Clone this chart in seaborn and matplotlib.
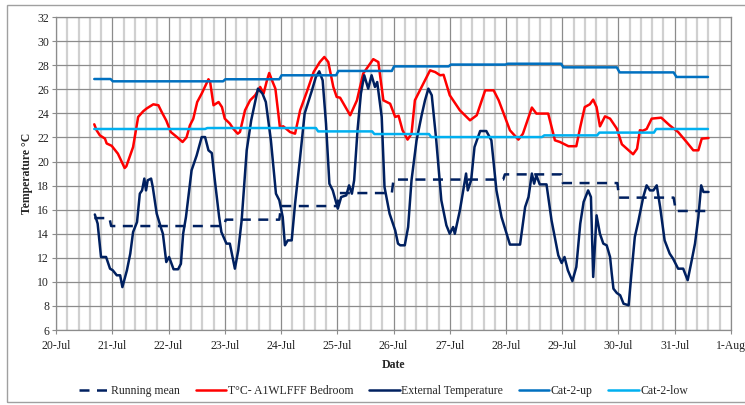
import numpy as np
import pandas as pd
import matplotlib
matplotlib.use('Agg')
import matplotlib.pyplot as plt
import seaborn as sns

# - data (x = day of July, 32 = 1-Aug) - #
tick_days = list(range(20, 33))
tick_labels = ['20-Jul', '21-Jul', '22-Jul', '23-Jul', '24-Jul', '25-Jul', '26-Jul',
               '27-Jul', '28-Jul', '29-Jul', '30-Jul', '31-Jul', '1-Aug']

mean_day = [20.68, 20.95, 20.98, 22.98, 23.02, 23.97, 24.00, 25.00, 25.03, 25.97, 26.00,
            27.95, 27.98, 28.98, 29.01, 29.98, 30.01, 30.98, 31.02, 31.59]
mean_temp = [15.3, 15.3, 14.64, 14.64, 15.17, 15.17, 16.3, 16.3, 17.38, 17.38, 18.5,
             18.5, 18.93, 18.93, 18.21, 18.21, 17.0, 17.0, 15.89, 15.89]

bed_day = [20.68, 20.72, 20.78, 20.87, 20.90, 20.99, 21.10, 21.22, 21.25, 21.37, 21.46,
           21.55, 21.61, 21.73, 21.82, 21.88, 21.96, 22.04, 22.15, 22.25, 22.32, 22.38,
           22.44, 22.51, 22.59, 22.71, 22.74, 22.80, 22.89, 22.95, 23.00, 23.09, 23.15,
           23.23, 23.27, 23.36, 23.45, 23.54, 23.63, 23.69, 23.75, 23.79, 23.84, 23.90,
           23.98, 24.04, 24.16, 24.25, 24.34, 24.46, 24.58, 24.69, 24.77, 24.84, 24.93,
           24.99, 25.05, 25.23, 25.35, 25.46, 25.64, 25.73, 25.82, 25.94, 26.03, 26.09,
           26.16, 26.25, 26.32, 26.38, 26.53, 26.65, 26.74, 26.83, 26.89, 27.00, 27.18,
           27.36, 27.48, 27.63, 27.78, 27.87, 28.07, 28.22, 28.30, 28.46, 28.54, 28.75,
           28.87, 28.96, 29.11, 29.25, 29.32, 29.40, 29.49, 29.55, 29.61, 29.67, 29.76,
           29.85, 29.97, 30.06, 30.18, 30.26, 30.33, 30.38, 30.43, 30.50, 30.59, 30.76,
           30.91, 31.06, 31.21, 31.33, 31.42, 31.48, 31.60]
bed_temp = [23.09, 22.6, 22.17, 21.9, 21.5, 21.3, 20.65, 19.46, 19.6, 21.2, 23.7,
            24.17, 24.4, 24.75, 24.67, 24.1, 23.4, 22.45, 22.03, 21.62, 22.0, 23.0,
            23.55, 24.94, 25.64, 26.83, 26.6, 24.67, 24.94, 24.52, 23.56, 23.15, 22.73,
            22.31, 22.45, 24.25, 25.08, 25.5, 26.19, 25.64, 26.74, 27.35, 26.74, 26.05,
            22.86, 22.92, 22.45, 22.31, 24.25, 25.8, 27.43, 28.26, 28.68, 28.26, 26.19,
            25.36, 25.3, 23.84, 25.08, 27.3, 28.5, 28.26, 25.08, 24.8, 23.7, 23.8,
            22.6, 21.82, 22.3, 25.08, 26.47, 27.57, 27.43, 27.16, 27.2, 25.5, 24.25,
            23.42, 23.84, 25.91, 25.91, 25.08, 22.59, 21.82, 22.3, 24.48, 23.98, 23.98,
            21.76, 21.62, 21.27, 21.27, 22.86, 24.52, 24.75, 25.14, 24.52, 22.92, 23.75,
            23.56, 22.73, 21.43, 20.93, 20.6, 21.06, 22.6, 22.55, 22.7, 23.56, 23.64,
            23.0, 22.45, 21.62, 20.93, 20.93, 21.9, 21.95]

ext_day = [20.69, 20.74, 20.80, 20.89, 20.96, 21.01, 21.08, 21.14, 21.18, 21.26, 21.32,
           21.37, 21.44, 21.49, 21.53, 21.57, 21.60, 21.63, 21.69, 21.72, 21.79, 21.87,
           21.90, 21.96, 22.01, 22.09, 22.17, 22.22, 22.26, 22.31, 22.41, 22.50, 22.59,
           22.65, 22.71, 22.77, 22.82, 22.90, 22.94, 23.03, 23.09, 23.18, 23.24, 23.30,
           23.39, 23.47, 23.59, 23.67, 23.73, 23.82, 23.91, 23.97, 24.03, 24.07, 24.12,
           24.19, 24.25, 24.34, 24.42, 24.55, 24.62, 24.68, 24.74, 24.80, 24.86, 24.92,
           25.01, 25.07, 25.16, 25.21, 25.26, 25.30, 25.36, 25.42, 25.48, 25.55, 25.61,
           25.67, 25.71, 25.79, 25.84, 25.93, 26.03, 26.08, 26.12, 26.20, 26.26, 26.32,
           26.41, 26.50, 26.56, 26.62, 26.68, 26.76, 26.85, 26.94, 27.00, 27.06, 27.09,
           27.18, 27.23, 27.29, 27.32, 27.38, 27.44, 27.54, 27.65, 27.74, 27.83, 27.92,
           28.01, 28.07, 28.25, 28.34, 28.40, 28.46, 28.50, 28.54, 28.60, 28.72, 28.81,
           28.93, 28.99, 29.04, 29.10, 29.18, 29.25, 29.32, 29.38, 29.46, 29.51, 29.55,
           29.61, 29.67, 29.73, 29.79, 29.85, 29.88, 29.91, 29.97, 30.03, 30.09, 30.18,
           30.23, 30.29, 30.35, 30.44, 30.50, 30.56, 30.62, 30.68, 30.74, 30.82, 30.91,
           30.97, 31.06, 31.15, 31.23, 31.29, 31.36, 31.42, 31.47, 31.51, 31.60]
ext_temp = [15.6, 14.84, 12.07, 12.07, 11.1, 10.96, 10.55, 10.55, 9.57, 10.96, 12.35,
            14.14, 14.97, 17.33, 17.6, 18.58, 17.6, 18.44, 18.58, 17.88, 15.67, 14.43,
            14.0, 11.65, 12.07, 11.05, 11.05, 11.5, 14.0, 15.39, 19.27, 20.5, 22.03,
            22.03, 20.93, 20.7, 18.58, 15.39, 14.14, 13.18, 13.18, 11.1, 12.63, 15.1,
            20.93, 23.42, 26.05, 25.64, 24.94, 21.76, 17.33, 16.78, 15.39, 13.04, 13.45,
            13.45, 16.5, 20.37, 23.98, 25.91, 27.02, 27.49, 26.74, 23.14, 18.16, 17.6,
            16.09, 17.05, 17.19, 18.02, 17.33, 18.44, 22.59, 25.64, 27.16, 26.05, 27.16,
            26.19, 26.6, 23.7, 17.88, 15.67, 14.28, 13.18, 13.04, 13.04, 14.56, 18.44,
            21.76, 23.84, 25.08, 26.05, 25.5, 21.76, 16.78, 14.7, 14.0, 14.56, 14.0,
            15.94, 17.33, 19.0, 17.6, 18.44, 21.2, 22.53, 22.53, 21.76, 17.6, 15.39,
            14.0, 13.1, 13.1, 16.22, 17.05, 19.0, 18.16, 18.85, 18.1, 18.1, 15.1,
            12.2, 11.57, 12.07, 10.96, 10.07, 11.24, 14.84, 16.64, 17.6, 17.05, 10.41,
            15.53, 14.0, 13.18, 13.04, 12.07, 10.69, 9.44, 9.08, 8.89, 8.19, 8.06,
            10.69, 13.73, 14.97, 17.05, 18.02, 17.6, 17.6, 18.02, 16.22, 13.45, 12.35,
            11.93, 11.1, 11.1, 10.14, 11.52, 13.18, 15.39, 18.02, 17.47, 17.47]

up_day = [20.68, 20.97, 21.01, 22.97, 23.01, 23.97, 24.01, 24.98, 25.02, 25.97, 26.01,
          26.98, 27.02, 27.99, 28.03, 28.98, 29.02, 29.97, 30.02, 30.98, 31.03, 31.59]
up_temp = [26.85, 26.85, 26.66, 26.66, 26.83, 26.83, 27.16, 27.16, 27.52, 27.52, 27.9,
           27.9, 28.05, 28.05, 28.12, 28.12, 27.82, 27.82, 27.4, 27.4, 27.02, 27.02]

low_day = [20.68, 22.65, 22.69, 24.62, 24.66, 25.62, 25.66, 26.63, 26.67, 28.64, 28.68,
           29.62, 29.66, 30.63, 30.67, 31.59]
low_temp = [22.7, 22.7, 22.78, 22.78, 22.5, 22.5, 22.28, 22.28, 22.03, 22.03, 22.17,
            22.17, 22.4, 22.4, 22.7, 22.7]

navy = '#002060'
red = '#FF0000'
cat_up = '#0070C0'
cat_low = '#00B0F0'

sns.set_style('white')
plt.rcParams['font.family'] = ['Liberation Serif', 'DejaVu Serif']

fig = plt.figure(figsize=(7.45, 4.05), dpi=100)
ax = fig.add_axes([0.0752, 0.185, 0.906, 0.773])

# grid: light minor verticals, darker day lines, horizontal every 2 degC
for d in np.arange(20, 32, 0.2):
    if abs(d - round(d)) > 0.01:
        ax.axvline(d, color='#d0d0d0', lw=1.6, zorder=0)
for d in tick_days:
    ax.axvline(d, color='#8c8c8c', lw=0.9, zorder=0)
for t in range(6, 33, 2):
    ax.axhline(t, color='#8c8c8c', lw=0.9, zorder=0)

sns.lineplot(x=mean_day, y=mean_temp, ax=ax, color=navy, lw=1.8, estimator=None,
             label='Running mean')
ax.lines[-1].set_dashes([4, 3])
sns.lineplot(x=bed_day, y=bed_temp, ax=ax, color=red, lw=1.8, estimator=None,
             label='T°C- A1WLFFF Bedroom')
sns.lineplot(x=ext_day, y=ext_temp, ax=ax, color=navy, lw=1.8, estimator=None,
             label='External Temperature')
sns.lineplot(x=up_day, y=up_temp, ax=ax, color=cat_up, lw=1.8, estimator=None,
             label='Cat-2-up')
sns.lineplot(x=low_day, y=low_temp, ax=ax, color=cat_low, lw=1.8, estimator=None,
             label='Cat-2-low')

ax.set_xlim(20, 32)
ax.set_ylim(6, 32)
ax.set_xticks(tick_days)
ax.set_xticklabels(tick_labels)
ax.set_yticks(range(6, 33, 2))
ax.tick_params(axis='both', labelsize=8.5, length=3, color='#8c8c8c', direction='out',
               bottom=True, left=True, pad=2)
ax.tick_params(axis='x', pad=4)
for s in ax.spines.values():
    s.set_color('#8c8c8c')
    s.set_linewidth(0.9)

ax.set_xlabel('Date', fontsize=8.5, fontweight='bold', labelpad=5)
ax.set_ylabel('Temperature °C', fontsize=8.5, fontweight='bold', labelpad=3)

handles, labels = ax.get_legend_handles_labels()
ax.get_legend().remove()
fig.legend(handles, labels, loc='center', bbox_to_anchor=(0.515, 0.035), ncol=5,
           frameon=False, fontsize=8.5, handlelength=2.6, columnspacing=1.3,
           handletextpad=0.15)

# outer border of the chart area
fig.patches.append(plt.Rectangle((0.0094, 0.008), 1.2, 0.98, transform=fig.transFigure,
                                 fill=False, edgecolor='#a0a0a0', lw=1.0))

fig.savefig('out.png', dpi=100)
